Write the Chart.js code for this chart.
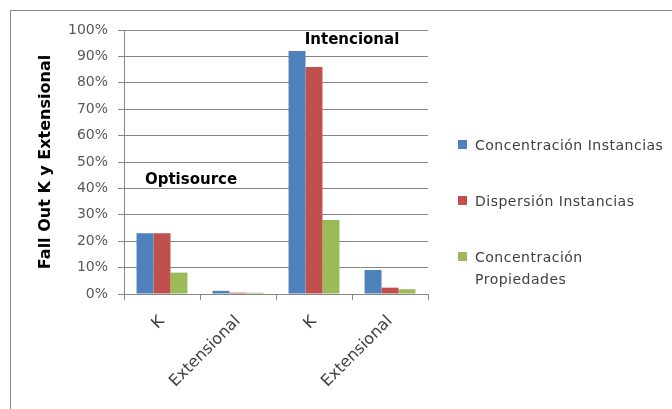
<!DOCTYPE html>
<html><head><meta charset="utf-8">
<script src="https://cdn.jsdelivr.net/npm/chart.js@4"></script>
<style>
html,body{margin:0;padding:0;background:#fff;width:672px;height:409px;overflow:hidden;}
#frame{position:absolute;left:10px;top:10px;width:700px;height:450px;border:1px solid #8c8c8c;}
#wrap{position:absolute;left:0;top:0;width:672px;height:409px;}
#legend{position:absolute;left:458px;top:134px;font-family:"DejaVu Sans",sans-serif;font-size:14px;letter-spacing:0.5px;color:#404040;}
.item{position:relative;padding-left:17px;line-height:22px;margin-bottom:34px;white-space:nowrap;}
.box{position:absolute;left:0;top:6px;width:9px;height:9px;}
</style></head>
<body>
<div id="frame"></div>
<div id="wrap"><canvas id="c" width="672" height="409"></canvas></div>
<div id="legend"></div>
<script>
const categories = ['K', 'Extensional', 'K', 'Extensional'];
const seriesNames = ['Concentración Instancias', 'Dispersión Instancias', 'Concentración Propiedades'];
const legendLines = [['Concentración Instancias'], ['Dispersión Instancias'], ['Concentración', 'Propiedades']];
const concentracionInstancias = [23, 1.2, 92, 9.1];
const dispersionInstancias = [23, 0.5, 86, 2.4];
const concentracionPropiedades = [8.1, 0.5, 28, 1.8];
const seriesColors = ['#4F81BD', '#C0504D', '#9BBB59'];
const groupLabels = ['Optisource', 'Intencional'];
const yAxisTitle = 'Fall Out K y Extensional';

const seriesData = [concentracionInstancias, dispersionInstancias, concentracionPropiedades];

// legend (HTML)
const lg = document.getElementById('legend');
seriesNames.forEach((n, i) => {
  const d = document.createElement('div'); d.className = 'item';
  const b = document.createElement('span'); b.className = 'box'; b.style.background = seriesColors[i];
  d.appendChild(b);
  legendLines[i].forEach((t, k) => { if (k) d.appendChild(document.createElement('br')); d.appendChild(document.createTextNode(t)); });
  lg.appendChild(d);
});

const groupLabelPlugin = {
  id: 'groupLabels',
  afterDatasetsDraw(chart, args, opts) {
    const ctx = chart.ctx, xs = chart.scales.x, ys = chart.scales.y;
    ctx.save();
    ctx.font = 'bold 15px "DejaVu Sans"';
    ctx.fillStyle = '#000';
    ctx.textAlign = 'center';
    ctx.textBaseline = 'middle';
    opts.anchors.forEach((a, i) => {
      ctx.fillText(groupLabels[i], xs.getPixelForValue(a.x) + (a.dx || 0), ys.getPixelForValue(a.y));
    });
    ctx.restore();
  }
};

const gridColor = '#868686';
new Chart(document.getElementById('c'), {
  type: 'bar',
  data: {
    labels: categories,
    datasets: seriesNames.map((n, i) => ({
      label: n, data: seriesData[i], backgroundColor: seriesColors[i],
      borderWidth: 0, categoryPercentage: 0.67, barPercentage: 1
    }))
  },
  options: {
    responsive: false, animation: false,
    layout: { padding: { left: 0, top: 30, right: 244, bottom: 0 } },
    plugins: {
      legend: { display: false }, tooltip: { enabled: false },
      groupLabels: { anchors: [{ x: 0.5, y: 43, dx: -9 }, { x: 2.5, y: 96 }] }
    },
    scales: {
      x: {
        grid: { display: true, drawOnChartArea: false, drawTicks: true, tickLength: 6, color: gridColor, offset: true },
        border: { color: gridColor },
        ticks: { minRotation: 45, maxRotation: 45, color: '#404040', font: { family: 'DejaVu Sans', size: 16 }, padding: 12 },
        afterFit: s => { s.height = 115; }
      },
      y: {
        min: 0, max: 100,
        ticks: { stepSize: 10, callback: v => v + '%', color: '#595959', font: { family: 'DejaVu Sans', size: 14 }, padding: 10 },
        grid: { color: gridColor, tickLength: 6 },
        border: { color: gridColor },
        title: { display: true, text: yAxisTitle, color: '#000', font: { family: 'DejaVu Sans', size: 16, weight: 'bold' }, padding: { top: 36, bottom: 0 } },
        afterFit: s => { s.width = 124; }
      }
    }
  },
  plugins: [groupLabelPlugin]
});
</script>
</body></html>
